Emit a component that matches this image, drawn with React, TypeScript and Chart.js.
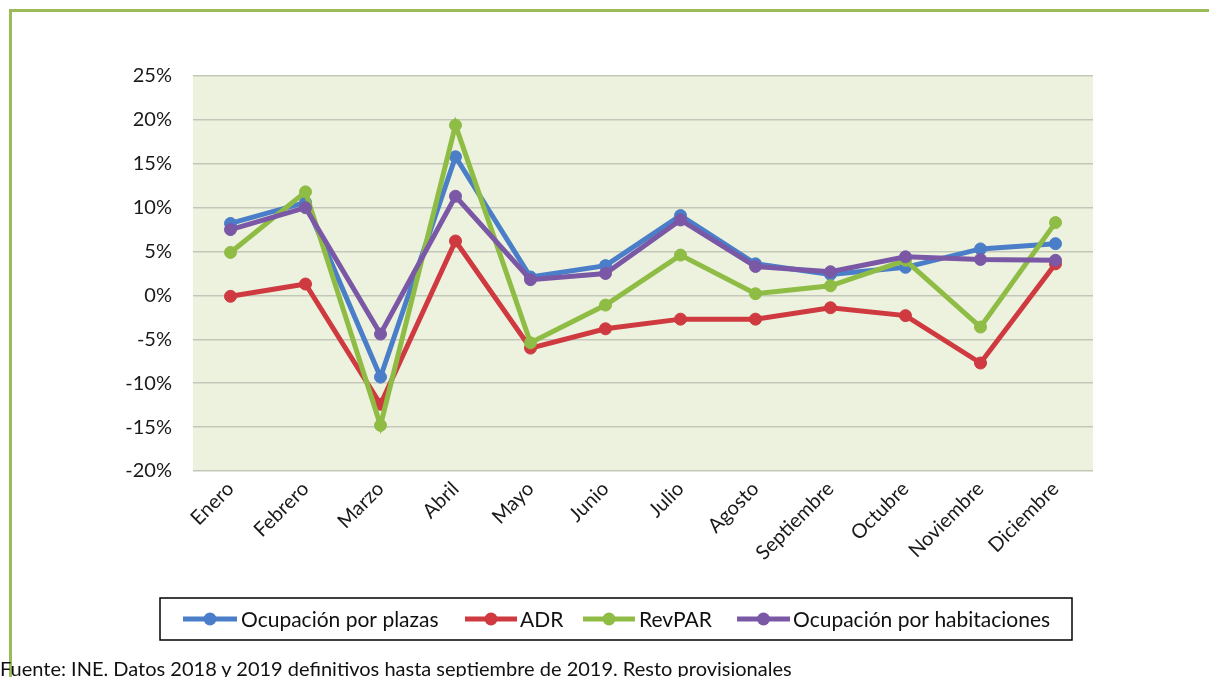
import React, { useEffect, useRef } from "react";
import { Chart, registerables } from "chart.js";

Chart.register(...registerables);

const CATEGORIES = ["Enero", "Febrero", "Marzo", "Abril", "Mayo", "Junio", "Julio", "Agosto", "Septiembre", "Octubre", "Noviembre", "Diciembre"];
const OCUP_PLAZAS = [8.2, 10.6, -9.3, 15.8, 2.1, 3.4, 9.1, 3.6, 2.4, 3.2, 5.3, 5.9];
const ADR = [-0.1, 1.3, -12.4, 6.2, -6.0, -3.8, -2.7, -2.7, -1.4, -2.3, -7.7, 3.6];
const REVPAR = [4.9, 11.8, -14.8, 19.4, -5.4, -1.1, 4.6, 0.2, 1.1, 4.0, -3.6, 8.3];
const OCUP_HAB = [7.5, 10.0, -4.4, 11.3, 1.8, 2.5, 8.6, 3.3, 2.7, 4.4, 4.1, 4.0];
const SERIES_NAMES = ["Ocupación por plazas", "ADR", "RevPAR", "Ocupación por habitaciones"];
const Y_MIN = -20;
const Y_MAX = 25;
const Y_STEP = 5;
const FOOTER = "Fuente: INE. Datos 2018 y 2019 definitivos hasta septiembre de 2019. Resto provisionales";

const COLORS = ["#4A7EC8", "#CE3A40", "#8FBC45", "#7B58A6"];
const FONT = "Lato, 'Open Sans', sans-serif";

export default function App() {
  const ref = useRef<HTMLCanvasElement>(null);
  useEffect(() => {
    if (!ref.current) return;
    const bgPlugin = {
      id: "bg",
      beforeDraw(chart: any) {
        const { ctx, chartArea: a } = chart;
        ctx.save();
        ctx.fillStyle = "#EDF2DF";
        ctx.fillRect(a.left, a.top, a.right - a.left, a.bottom - a.top);
        ctx.restore();
      },
    };
    const legendPlugin = {
      id: "customLegend",
      afterDraw(chart: any) {
        const ctx = chart.ctx;
        ctx.save();
        ctx.strokeStyle = "#000";
        ctx.lineWidth = 1.5;
        ctx.strokeRect(160, 598, 912, 42);
        const items = [
          { x1: 183, x2: 237, tx: 241 },
          { x1: 465, x2: 517, tx: 520 },
          { x1: 583, x2: 635, tx: 639 },
          { x1: 737, x2: 790, tx: 793 },
        ];
        const y = 619;
        items.forEach((it, i) => {
          ctx.strokeStyle = COLORS[i];
          ctx.fillStyle = COLORS[i];
          ctx.lineWidth = 5;
          ctx.beginPath();
          ctx.moveTo(it.x1, y);
          ctx.lineTo(it.x2, y);
          ctx.stroke();
          ctx.beginPath();
          ctx.arc((it.x1 + it.x2) / 2, y, 6.5, 0, Math.PI * 2);
          ctx.fill();
          ctx.fillStyle = "#111";
          ctx.font = "21px " + FONT;
          ctx.textBaseline = "middle";
          ctx.textAlign = "left";
          ctx.fillText(SERIES_NAMES[i], it.tx, y + 1);
        });
        ctx.restore();
      },
    };
    const seriesData = [OCUP_PLAZAS, ADR, REVPAR, OCUP_HAB];
    const orders = [3, 2, 1, 0];
    const chart = new Chart(ref.current, {
      type: "line",
      data: {
        labels: CATEGORIES,
        datasets: seriesData.map((d, i) => ({
          label: SERIES_NAMES[i],
          data: d,
          borderColor: COLORS[i],
          backgroundColor: COLORS[i],
          pointBackgroundColor: COLORS[i],
          pointBorderColor: COLORS[i],
          borderWidth: 5,
          pointRadius: 6,
          pointBorderWidth: 1,
          tension: 0,
          order: orders[i],
        })),
      },
      options: {
        responsive: false,
        animation: false,
        layout: { padding: { top: 76, right: 116, left: 0, bottom: 0 } },
        plugins: { legend: { display: false }, tooltip: { enabled: false } },
        scales: {
          x: {
            offset: true,
            grid: { display: false, drawTicks: false },
            border: { display: false },
            ticks: {
              minRotation: 45,
              maxRotation: 45,
              padding: 6,
              color: "#1a1a1a",
              font: { family: FONT, size: 20 },
            },
            afterFit(scale: any) {
              scale.height = 206;
            },
          },
          y: {
            min: Y_MIN,
            max: Y_MAX,
            grid: { color: "#C3C7BA", lineWidth: 1.5, drawTicks: false },
            border: { display: false },
            ticks: {
              stepSize: Y_STEP,
              padding: 21,
              color: "#1a1a1a",
              font: { family: FONT, size: 20 },
              callback: (v: any) => `${v}%`,
            },
            afterFit(scale: any) {
              scale.width = 193;
            },
          },
        },
      },
      plugins: [bgPlugin, legendPlugin],
    });
    return () => chart.destroy();
  }, []);

  return (
    <div style={{ position: "fixed", left: 0, top: 0, width: 1209, height: 677, background: "#fff", overflow: "hidden" }}>
      <div style={{ position: "absolute", left: 9, top: 9, width: 1200, height: 668, borderTop: "3px solid #9BBB59", borderLeft: "3px solid #9BBB59" }} />
      <canvas ref={ref} width={1209} height={677} style={{ position: "absolute", left: 0, top: 0 }} />
      <div style={{ position: "absolute", left: 0, top: 657, fontFamily: FONT, fontSize: 20, color: "#111", whiteSpace: "nowrap", lineHeight: "22px" }}>
        {FOOTER}
      </div>
    </div>
  );
}
